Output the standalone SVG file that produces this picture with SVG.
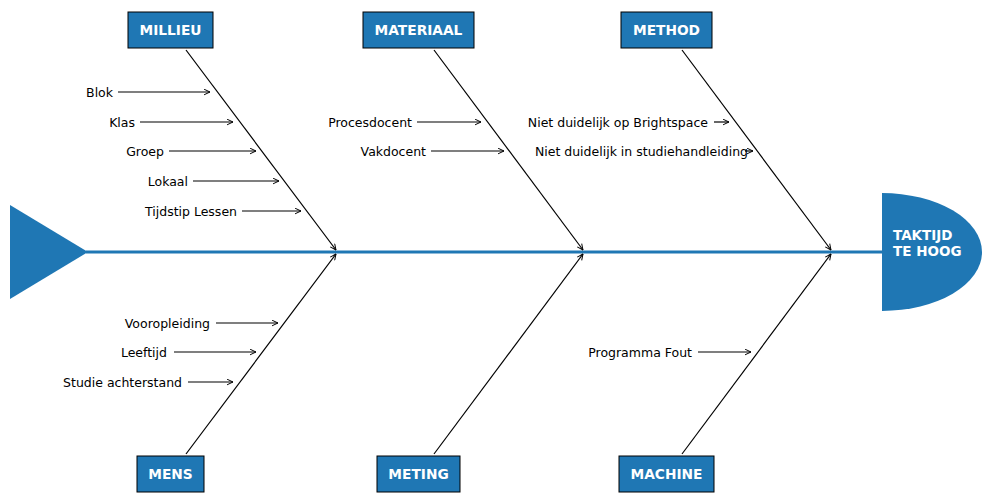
<svg xmlns="http://www.w3.org/2000/svg" width="986" height="504" viewBox="0 0 986 504">
<style>
.box{fill:#1f77b4;stroke:#000;stroke-width:1}
.bt{font-family:"DejaVu Sans",sans-serif;font-weight:bold;font-size:13.75px;fill:#fff;text-anchor:middle}
.lb{font-family:"DejaVu Sans",sans-serif;font-size:12.5px;fill:#000;text-anchor:end}
.bone{stroke:#000;stroke-width:1.2;fill:none;marker-end:url(#ah)}
.sub{stroke:#000;stroke-width:1.2;fill:none;marker-end:url(#ah)}
</style>
<defs>
<marker id="ah" viewBox="0 0 10 10" refX="9.5" refY="5" markerWidth="7" markerHeight="7" markerUnits="userSpaceOnUse" orient="auto">
<path d="M1,1 L9.5,5 L1,9" fill="none" stroke="#000" stroke-width="1.4"/>
</marker>
</defs>
<rect width="986" height="504" fill="#fff"/>
<g id="spine">
<polygon points="10,205 88,252 10,299" fill="#1f77b4"/>
<line x1="86" y1="252" x2="884" y2="252" stroke="#1f77b4" stroke-width="3"/>
</g>
<g id="head">
<path d="M882,193 A100,59 0 0 1 882,311 Z" fill="#1f77b4"/>
<text x="893" y="240" font-family="DejaVu Sans,sans-serif" font-weight="bold" font-size="13.5" fill="#fff">TAKTIJD</text>
<text x="893" y="256" font-family="DejaVu Sans,sans-serif" font-weight="bold" font-size="13.5" fill="#fff">TE HOOG</text>
</g>
<g id="connectors">
<line class="bone" x1="186" y1="50" x2="336" y2="250"/>
<line class="bone" x1="434" y1="50" x2="583" y2="250"/>
<line class="bone" x1="682" y1="50" x2="831" y2="250"/>
<line class="bone" x1="186" y1="454" x2="336" y2="254"/>
<line class="bone" x1="434" y1="454" x2="583" y2="254"/>
<line class="bone" x1="682" y1="454" x2="831" y2="254"/>
<line class="sub" x1="118" y1="92" x2="210" y2="92"/>
<line class="sub" x1="140" y1="122" x2="233" y2="122"/>
<line class="sub" x1="169" y1="151" x2="256" y2="151"/>
<line class="sub" x1="193" y1="181" x2="279" y2="181"/>
<line class="sub" x1="242" y1="211" x2="301" y2="211"/>
<line class="sub" x1="417" y1="122" x2="481" y2="122"/>
<line class="sub" x1="431" y1="151" x2="504" y2="151"/>
<line class="sub" x1="714" y1="122" x2="729" y2="122"/>
<line class="sub" x1="745" y1="151" x2="753" y2="151"/>
<line class="sub" x1="216" y1="323" x2="278" y2="323"/>
<line class="sub" x1="174" y1="352" x2="256" y2="352"/>
<line class="sub" x1="188" y1="382" x2="233" y2="382"/>
<line class="sub" x1="698" y1="352" x2="751" y2="352"/>
</g>
<g id="labels">
<text class="lb" x="113" y="96.5">Blok</text>
<text class="lb" x="135" y="126.5">Klas</text>
<text class="lb" x="164" y="155.5">Groep</text>
<text class="lb" x="188" y="185.5">Lokaal</text>
<text class="lb" x="237" y="215.5">Tijdstip Lessen</text>
<text class="lb" x="412" y="126.5">Procesdocent</text>
<text class="lb" x="426" y="155.5">Vakdocent</text>
<text class="lb" x="708" y="126.5">Niet duidelijk op Brightspace</text>
<text class="lb" x="748" y="155.5">Niet duidelijk in studiehandleiding</text>
<text class="lb" x="210" y="327.5">Vooropleiding</text>
<text class="lb" x="167" y="356.5">Leeftijd</text>
<text class="lb" x="182" y="386.5">Studie achterstand</text>
<text class="lb" x="692" y="356.5">Programma Fout</text>
</g>
<g id="millieu"><rect class="box" x="128" y="12" width="85" height="36"/><text class="bt" x="170.5" y="35">MILLIEU</text></g>
<g id="materiaal"><rect class="box" x="363" y="12" width="111" height="36"/><text class="bt" x="418.5" y="35">MATERIAAL</text></g>
<g id="method"><rect class="box" x="621" y="12" width="91" height="36"/><text class="bt" x="666.5" y="35">METHOD</text></g>
<g id="mens"><rect class="box" x="137" y="456" width="67" height="36"/><text class="bt" x="170.5" y="479">MENS</text></g>
<g id="meting"><rect class="box" x="377" y="456" width="83" height="36"/><text class="bt" x="418.5" y="479">METING</text></g>
<g id="machine"><rect class="box" x="619" y="456" width="95" height="36"/><text class="bt" x="666.5" y="479">MACHINE</text></g>
</svg>
